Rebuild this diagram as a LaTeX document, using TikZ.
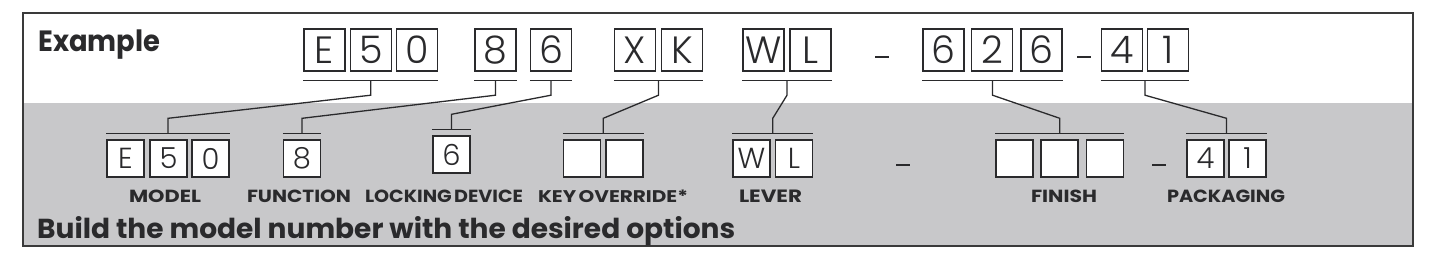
\documentclass[tikz,border=0pt]{standalone}
\usepackage{graphicx}
\usepackage{fontspec}
\setmainfont{Poppins}
\newfontfamily\lightfont{Poppins Light}
\usetikzlibrary{calc}
\definecolor{ink}{HTML}{2A2A2C}
\definecolor{band}{HTML}{C8C8CA}
\definecolor{framec}{HTML}{3A3A3A}
\tikzset{
  tbox/.style={draw=ink, line width=1.4pt, minimum width=41pt, minimum height=42pt, inner sep=0pt,
    text=ink, font=\lightfont\fontsize{38}{38}\selectfont},
  bbox/.style={draw=ink, fill=white, line width=1.4pt, minimum width=37pt, minimum height=37pt, inner sep=0pt,
    text=ink, font=\lightfont\fontsize{29}{29}\selectfont},
  con/.style={draw=ink, line width=1.3pt},
  dashmark/.style={draw=ink, line width=2.6pt},
  lab/.style={text=ink, inner sep=0pt, anchor=south, font=\bfseries\fontsize{18}{18}\selectfont},
  head/.style={text=ink, inner sep=0pt, anchor=base west, font=\bfseries\fontsize{28}{28}\selectfont}
}
\newcommand\mygroup[5]{%
  \coordinate (u#1) at ($(#2.south west)!.5!(#3.south east)+(0,8.5)$);
  \coordinate (d#1) at ($(#4.north west)!.5!(#5.north east)+(0,-6)$);
  \draw[con] ($(#2.south west)+(0,8.5)$) -- ($(#3.south east)+(0,8.5)$);
  \draw[con] ($(#4.north west)+(0,-6)$) -- ($(#5.north east)+(0,-6)$);
  \draw[con] (u#1) -- ++(0,15) -- ($(d#1)+(0,-15)$) -- (d#1);
}
\newcommand\fitlab[2]{\resizebox{#1pt}{12.5pt}{#2}}
\begin{document}
\begin{tikzpicture}[x=1pt,y=-1pt]
\useasboundingbox (0,0) rectangle (1439,266);
\fill[band] (23,103) rectangle (1413,246);
\draw[framec, line width=1.5pt] (23,13) rectangle (1413,246);

\node[head] (ex) at (38,51.7) {\resizebox{122pt}{21.7pt}{Example}};
\node[head] (build) at (37,238.3) {\resizebox{698pt}{22pt}{Build the model number with the desired options}};

% top row
\node[tbox] (tE) at (324.5,50) {E};
\node[tbox] (t5) at (371,50) {5};
\node[tbox] (t0) at (417,50) {0};
\node[tbox] (t8) at (495.5,50) {8};
\node[tbox] (t6) at (551,50) {6};
\node[tbox] (tX) at (635,50) {X};
\node[tbox] (tK) at (682,50) {K};
\node[tbox] (tW) at (763.5,50) {W};
\node[tbox] (tL) at (810.5,50) {L};
\node[tbox] (tf1) at (943.5,50) {6};
\node[tbox] (tf2) at (992,50) {2};
\node[tbox] (tf3) at (1041.5,50) {6};
\node[tbox] (tp1) at (1122,50) {4};
\node[tbox] (tp2) at (1168,50) {1};
\draw[dashmark] (875,57) -- (889,57);
\draw[dashmark] (1077,57) -- (1091,57);

% bottom row
\node[bbox] (bE) at (125.5,158.5) {E};
\node[bbox] (b5) at (168.5,158.5) {5};
\node[bbox] (b0) at (210.5,158.5) {0};
\node[bbox] (b8) at (302,158.5) {8};
\node[bbox] (b6) at (451.5,154.5) {6};
\node[bbox] (bk1) at (582,158.5) {};
\node[bbox] (bk2) at (624.5,158.5) {};
\node[bbox] (bW) at (751.5,158.5) {W};
\node[bbox] (bL) at (794,158.5) {L};
\node[bbox] (bf1) at (1014.5,158.5) {};
\node[bbox] (bf2) at (1059.5,158.5) {};
\node[bbox] (bf3) at (1105,158.5) {};
\node[bbox] (bp1) at (1205.5,158.5) {4};
\node[bbox] (bp2) at (1247.5,158.5) {1};
\draw[dashmark] (896,165) -- (910,165);
\draw[dashmark] (1152,165) -- (1166,165);

% connectors
\mygroup{m}{tE}{t0}{bE}{b0}
\mygroup{f}{t8}{t8}{b8}{b8}
\mygroup{l}{t6}{t6}{b6}{b6}
\mygroup{k}{tX}{tK}{bk1}{bk2}
\mygroup{v}{tW}{tL}{bW}{bL}
\mygroup{s}{tf1}{tf3}{bf1}{bf3}
\mygroup{p}{tp1}{tp2}{bp1}{bp2}

% labels
\node[lab] (lm) at (165,202.5) {\fitlab{72}{MODEL}};
\node[lab] (lf) at (299,202.5) {\fitlab{104}{FUNCTION}};
\node[lab] (ll) at (444,202.5) {\fitlab{158}{LOCKING\hspace{0.12em}DEVICE}};
\node[lab] (lk) at (613,202.5) {\fitlab{150}{KEY\hspace{0.12em}OVERRIDE*}};
\node[lab] (lv) at (770.5,202.5) {\fitlab{63}{LEVER}};
\node[lab] (ls) at (1064,202.5) {\fitlab{66}{FINISH}};
\node[lab] (lp) at (1226,202.5) {\fitlab{118}{PACKAGING}};
\end{tikzpicture}
\end{document}
